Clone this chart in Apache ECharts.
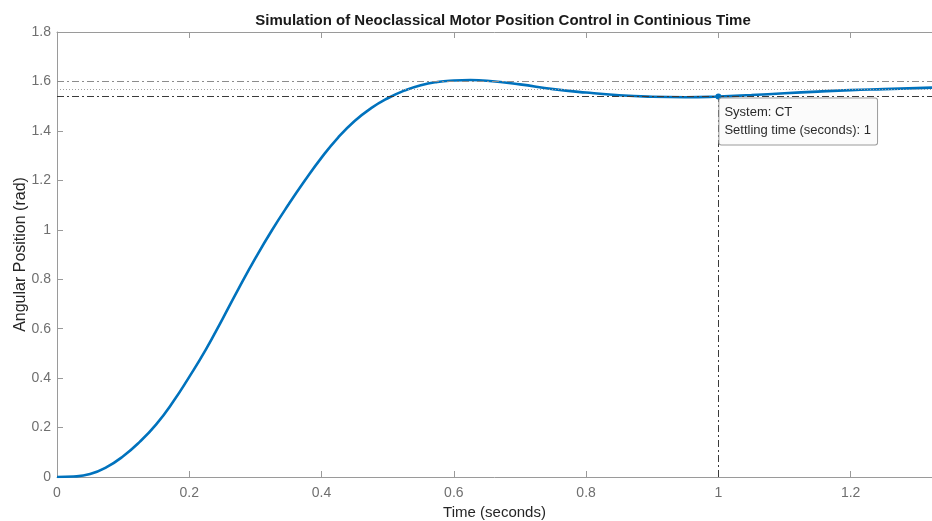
<!DOCTYPE html>
<html>
<head>
<meta charset="utf-8">
<script src="https://cdn.jsdelivr.net/npm/echarts@6/dist/echarts.min.js"></script>
<style>
  html, body { margin: 0; padding: 0; background: #fff; }
  #main { width: 932px; height: 521px; }
</style>
</head>
<body>
<div id="main"></div>
<script>
// step response
const timeS = [0, 0.025, 0.05, 0.075, 0.1, 0.125, 0.15, 0.175, 0.2, 0.225, 0.25,
  0.275, 0.3, 0.325, 0.35, 0.375, 0.4, 0.425, 0.45, 0.475, 0.5, 0.525, 0.55,
  0.575, 0.6, 0.625, 0.65, 0.7, 0.75, 0.8, 0.85, 0.9, 0.95, 1.0, 1.05, 1.1,
  1.15, 1.2, 1.25, 1.3, 1.323];
const angleRad = [0, 0.002, 0.012, 0.04, 0.084, 0.142, 0.213, 0.302, 0.405, 0.515, 0.638,
  0.764, 0.885, 0.998, 1.102, 1.2, 1.292, 1.373, 1.44, 1.492, 1.532, 1.563, 1.585,
  1.598, 1.604, 1.606, 1.603, 1.588, 1.569, 1.555, 1.544, 1.538, 1.536, 1.539, 1.545, 1.552,
  1.559, 1.565, 1.569, 1.573, 1.575];

const finalValue = 1.5708;
const bandUpper = 1.602;
const bandLower = 1.539;
const settlingTime = 1;
const xMax = 1.323;

const chart = echarts.init(document.getElementById("main"));

const axisGrey = "#9a9a9a";
const labelGrey = "#6f6f6f";
const font = "Liberation Sans, Arial, sans-serif";

const option = {
  animation: false,
  title: {
    text: "Simulation of Neoclassical Motor Position Control in Continious Time",
    left: 498,
    top: 8,
    textAlign: "center",
    textStyle: { fontFamily: font, fontSize: 15, fontWeight: "bold", color: "#1a1a1a" },
  },
  grid: { left: 57, top: 32, right: 0, bottom: 44, outerBoundsMode: "none" },
  xAxis: [
    {
      type: "value",
      min: 0,
      max: xMax,
      interval: 0.2,
      name: "Time (seconds)",
      nameLocation: "middle",
      nameGap: 28,
      nameTextStyle: { fontFamily: font, fontSize: 15, color: "#262626" },
      axisLine: { show: true, lineStyle: { color: axisGrey, width: 1 } },
      axisTick: { show: true, inside: true, length: 6, lineStyle: { color: axisGrey } },
      axisLabel: { fontFamily: font, fontSize: 14, color: labelGrey, margin: 9, showMaxLabel: false },
      splitLine: { show: false },
    },
    {
      type: "value",
      position: "top",
      min: 0,
      max: xMax,
      interval: 0.2,
      axisLine: { show: true, lineStyle: { color: axisGrey, width: 1 } },
      axisTick: { show: true, inside: true, length: 6, lineStyle: { color: axisGrey } },
      axisLabel: { show: false },
      splitLine: { show: false },
    },
  ],
  yAxis: {
    type: "value",
    min: 0,
    max: 1.8,
    interval: 0.2,
    name: "Angular Position (rad)",
    nameLocation: "middle",
    nameGap: 28,
    nameMoveOverlap: false,
    nameTextStyle: { fontFamily: font, fontSize: 16, color: "#262626" },
    axisLine: { show: true, lineStyle: { color: axisGrey, width: 1 } },
    axisTick: { show: true, inside: true, length: 6, lineStyle: { color: axisGrey } },
    axisLabel: { fontFamily: font, fontSize: 14, color: labelGrey, margin: 6 },
    splitLine: { show: false },
  },
  series: [
    {
      name: "CT",
      type: "line",
      data: timeS.map((t, i) => [t, angleRad[i]]),
      smooth: 0.5,
      showSymbol: false,
      lineStyle: { color: "#0072BD", width: 2.6 },
      z: 3,
      markLine: {
        silent: true,
        symbol: ["none", "none"],
        label: { show: false },
        data: [
          { yAxis: bandUpper, lineStyle: { color: "#8c8c8c", type: [7, 3, 2, 3], width: 1 } },
          { yAxis: finalValue, lineStyle: { color: "#a0a0a0", type: [1, 2], width: 1 } },
          { yAxis: bandLower, lineStyle: { color: "#3a3a3a", type: [7, 3, 2, 3], width: 1 } },
          [
            { coord: [settlingTime, 0], lineStyle: { color: "#3a3a3a", type: [7, 3, 2, 3], width: 1 } },
            { coord: [settlingTime, bandLower] },
          ],
        ],
      },
      markPoint: {
        silent: true,
        z: 5,
        data: [
          {
            coord: [settlingTime, bandLower],
            symbol: "circle",
            symbolSize: 6,
            itemStyle: { color: "#0072BD" },
            label: {
              show: true,
              position: [4, 5],
              formatter: "System: CT\nSettling time (seconds): " + settlingTime,
              fontFamily: font,
              fontSize: 13,
              lineHeight: 18,
              color: "#2a2a2a",
              align: "left",
              verticalAlign: "top",
              backgroundColor: "#fbfbfb",
              borderColor: "#9a9a9a",
              borderWidth: 1,
              borderRadius: 2,
              padding: [5, 6, 5, 5],
            },
          },
        ],
      },
    },
  ],
};

chart.setOption(option);
</script>
</body>
</html>
